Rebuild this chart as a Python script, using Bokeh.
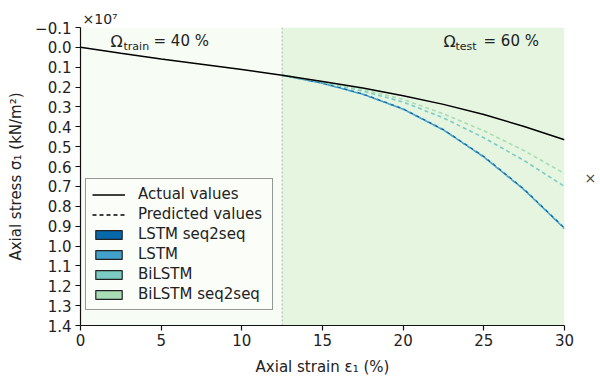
from bokeh.plotting import figure
from bokeh.models import (Range1d, FixedTicker, Legend, LegendItem, BoxAnnotation,
                          Span, Label, LinearAxis)
from bokeh.embed import file_html
from bokeh.resources import INLINE

# ---- data ----
strain = [0, 2.5, 5, 7.5, 10, 12.5, 15, 17.5, 20, 22.5, 25, 27.5, 30]
actual = [0.0, 0.03, 0.058, 0.085, 0.112, 0.14, 0.172, 0.205, 0.243, 0.287, 0.338, 0.398, 0.465]

pred_strain = [12.5, 15, 17.5, 20, 22.5, 25, 27.5, 30]
lstm_seq2seq = [0.14, 0.18, 0.235, 0.31, 0.415, 0.55, 0.715, 0.91]
lstm = [0.14, 0.181, 0.236, 0.311, 0.416, 0.552, 0.717, 0.912]
bilstm = [0.14, 0.175, 0.22, 0.275, 0.355, 0.455, 0.57, 0.70]
bilstm_seq2seq = [0.14, 0.173, 0.212, 0.262, 0.335, 0.42, 0.52, 0.635]

model_names = ["LSTM seq2seq", "LSTM", "BiLSTM", "BiLSTM seq2seq"]
model_colors = ["#0868ac", "#43a2ca", "#7bccc4", "#a8ddb5"]

split = 12.5
x_ticks = [0, 5, 10, 15, 20, 25, 30]
y_ticks = [-0.1, 0.0, 0.1, 0.2, 0.3, 0.4, 0.5, 0.6, 0.7, 0.8, 0.9, 1.0, 1.1, 1.2, 1.3, 1.4]
y_tick_labels = ["\u22120.1", "0.0", "0.1", "0.2", "0.3", "0.4", "0.5", "0.6", "0.7",
                 "0.8", "0.9", "1.0", "1.1", "1.2", "1.3", "1.4"]
side_mark_y = [0.66]
side_mark_label = ["\u00d7"]

FONT = "DejaVu Sans"
TXT = "#222222"
NAN = float("nan")

p = figure(width=600, height=378, output_backend="svg", toolbar_location=None,
           x_range=Range1d(0, 30), y_range=Range1d(1.4, -0.1),
           min_border_left=80, min_border_right=36, min_border_top=27, min_border_bottom=51)
p.outline_line_color = None
p.grid.visible = False
p.background_fill_color = "white"

p.title.text = "\u00d710\u2077"
p.title.align = "left"
p.title.offset = 2
p.title.standoff = 2
p.title.text_font = FONT
p.title.text_font_size = "14px"
p.title.text_font_style = "normal"
p.title.text_color = TXT

# shaded regions
p.add_layout(BoxAnnotation(left=0, right=split, fill_color="#f7fcf5", fill_alpha=1.0,
                           line_color=None, level="underlay"))
p.add_layout(BoxAnnotation(left=split, right=30, fill_color="#e5f5e0", fill_alpha=1.0,
                           line_color=None, level="underlay"))
p.add_layout(Span(location=split, dimension="height", line_color="#b0b0b0",
                  line_width=1, line_dash="2 2", level="underlay"))

# predicted curves
series = [lstm_seq2seq, lstm, bilstm, bilstm_seq2seq]
for vals, col, off in zip(series, model_colors, [0, 3, 0, 0]):
    p.line(pred_strain, vals, line_color=col, line_width=1.6, line_dash="4 3",
           line_dash_offset=off)

act = p.line(strain, actual, line_color="black", line_width=1.5)

# legend-only renderers (NaN data, nothing drawn in the plot)
dash_r = p.line(x=[NAN], y=[NAN], line_color="black", line_width=1.5, line_dash="4 3")
patch_rs = []
for col in model_colors:
    patch_rs.append(p.quad(left=[NAN], right=[NAN], top=[NAN], bottom=[NAN], fill_color=col,
                           line_color="#222222", line_width=1.2))

items = [LegendItem(label="Actual values", renderers=[act]),
         LegendItem(label="Predicted values", renderers=[dash_r])]
for name, r in zip(model_names, patch_rs):
    items.append(LegendItem(label=name, renderers=[r]))

legend = Legend(items=items, location=(5, 15), orientation="vertical",
                glyph_width=33, glyph_height=11, label_height=17, spacing=2,
                padding=6, margin=0, label_standoff=13, label_width=128,
                label_text_font=FONT, label_text_font_size="15px", label_text_color=TXT,
                border_line_color="#333333", border_line_width=1.2,
                background_fill_color="#fbfdf9", background_fill_alpha=1.0)
p.add_layout(legend, "center")

# axes
for ax in (p.xaxis[0], p.yaxis[0]):
    ax.axis_line_color = "#111111"
    ax.axis_line_width = 1.2
    ax.major_tick_line_color = "#111111"
    ax.major_tick_line_width = 1.2
    ax.major_tick_out = 5
    ax.major_tick_in = 0
    ax.minor_tick_line_color = None
    ax.major_label_text_font = FONT
    ax.major_label_text_font_size = "15px"
    ax.major_label_text_color = TXT
    ax.axis_label_text_font = FONT
    ax.axis_label_text_font_size = "15px"
    ax.axis_label_text_font_style = "normal"
    ax.axis_label_text_color = TXT

p.xaxis.ticker = FixedTicker(ticks=x_ticks)
p.yaxis.ticker = FixedTicker(ticks=y_ticks)
p.yaxis.major_label_overrides = dict(zip(y_ticks, y_tick_labels))
p.xaxis.axis_label = "Axial strain \u03b5\u2081 (%)"
p.yaxis.axis_label = "Axial stress \u03c3\u2081 (kN/m\u00b2)"
p.xaxis.axis_label_standoff = 9
p.yaxis.axis_label_standoff = 7
p.xaxis.major_label_standoff = 3
p.yaxis.major_label_standoff = 4

# stray offset mark on the right side
side = LinearAxis(ticker=FixedTicker(ticks=side_mark_y),
                  major_label_overrides=dict(zip(side_mark_y, side_mark_label)),
                  axis_line_color=None, major_tick_line_color=None,
                  minor_tick_line_color=None, major_tick_out=0, major_tick_in=0,
                  major_label_standoff=20, major_label_text_font=FONT,
                  major_label_text_font_size="14px", major_label_text_color="#444444")
p.add_layout(side, "right")

# annotations
def lab(x, y, text, size, xo=0, yo=0):
    p.add_layout(Label(x=x, y=y, text=text, x_offset=xo, y_offset=yo,
                       text_font=FONT, text_font_size=size, text_color=TXT,
                       text_baseline="middle", text_align="left"))

lab(1.86, -0.03, "\u03a9", "16px")
lab(1.86, -0.03, "train", "11px", xo=13, yo=-5)
lab(1.86, -0.03, "= 40 %", "15px", xo=43)

lab(22.5, -0.03, "\u03a9", "16px")
lab(22.5, -0.03, "test", "11px", xo=12, yo=-5)
lab(22.5, -0.03, "= 60 %", "15px", xo=40)

open("out.html", "w").write(file_html(p, INLINE))
